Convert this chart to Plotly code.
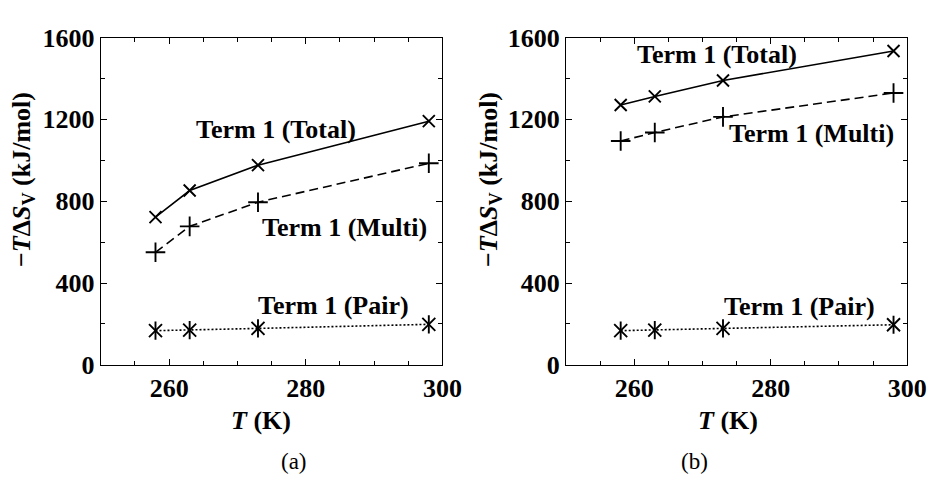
import plotly.graph_objects as go

# ---- data ----
T = [258, 263, 273, 298]
total_a = [722, 852, 976, 1191]
multi_a = [550, 677, 795, 985]
pair_a = [167, 170, 178, 198]
total_b = [1270, 1312, 1390, 1534]
multi_b = [1094, 1136, 1212, 1329]
pair_b = [167, 170, 178, 196]

FONT = "Liberation Serif"
W, H = 949, 488

fig = go.Figure()

def add_panel(xa, ya, total, multi, pair):
    fig.add_trace(go.Scatter(x=T, y=total, mode="lines+markers", xaxis=xa, yaxis=ya,
                             line=dict(color="black", width=1.6),
                             marker=dict(symbol="x-thin-open", size=12, color="black",
                                         line=dict(color="black", width=1.9)),
                             showlegend=False))
    fig.add_trace(go.Scatter(x=T, y=multi, mode="lines+markers", xaxis=xa, yaxis=ya,
                             line=dict(color="black", width=1.6, dash="9px,5px"),
                             marker=dict(symbol="cross-thin-open", size=14, color="black",
                                         line=dict(color="black", width=1.9)),
                             showlegend=False))
    fig.add_trace(go.Scatter(x=T, y=pair, mode="lines+markers", xaxis=xa, yaxis=ya,
                             line=dict(color="black", width=1.6, dash="2px,2px"),
                             marker=dict(symbol="x-thin-open", size=13, color="black",
                                         line=dict(color="black", width=1.9)),
                             showlegend=False))
    fig.add_trace(go.Scatter(x=T, y=pair, mode="markers", xaxis=xa, yaxis=ya,
                             marker=dict(symbol="line-ns-open", size=13, color="black",
                                         line=dict(color="black", width=1.9)),
                             showlegend=False))

add_panel("x", "y", total_a, multi_a, pair_a)
add_panel("x2", "y2", total_b, multi_b, pair_b)

tickfont = dict(family=FONT, size=26, color="black", weight="bold")
xax = dict(range=[250, 300], tickvals=[260, 280, 300], ticks="inside", ticklen=6, tickwidth=1.3,
           showline=True, linecolor="black", linewidth=1.4, mirror="allticks",
           showgrid=False, zeroline=False, tickfont=tickfont, tickcolor="black",
           minor=dict(dtick=5, tick0=0, ticks="inside", ticklen=4, tickwidth=1.2, tickcolor="black",
                      showgrid=False))
yax = dict(range=[0, 1600], tickvals=[0, 400, 800, 1200, 1600], ticks="inside", ticklen=6, tickwidth=1.3,
           showline=True, linecolor="black", linewidth=1.4, mirror="allticks",
           showgrid=False, zeroline=False, tickfont=tickfont, tickcolor="black",
           minor=dict(dtick=200, tick0=0, ticks="inside", ticklen=4, tickwidth=1.2, tickcolor="black",
                      showgrid=False))

ydom = [1 - 373 / H, 1 - 25 / H]
fig.update_layout(
    width=W, height=H, margin=dict(l=0, r=0, t=0, b=0),
    paper_bgcolor="white", plot_bgcolor="white",
    xaxis=dict(xax, domain=[103 / W, 452 / W], anchor="y"),
    yaxis=dict(yax, domain=ydom, anchor="x"),
    xaxis2=dict(xax, domain=[578.3 / W, 926.7 / W], anchor="y2"),
    yaxis2=dict(yax, domain=ydom, anchor="x2"),
)

lab = dict(family=FONT, size=26, color="black", weight="bold")
labels = [
    ("x", "y", 275.6, 1149, "Term 1 (Total)"),
    ("x", "y", 285.6, 673, "Term 1 (Multi)"),
    ("x", "y", 284.0, 290, "Term 1 (Pair)"),
    ("x2", "y2", 272.1, 1516, "Term 1 (Total)"),
    ("x2", "y2", 286.0, 1132, "Term 1 (Multi)"),
    ("x2", "y2", 284.2, 286, "Term 1 (Pair)"),
]
for xr, yr, x, y, t in labels:
    fig.add_annotation(x=x, y=y, xref=xr, yref=yr, text=t, showarrow=False,
                       xanchor="center", yanchor="middle", font=lab)

ytitle = "\u2212<i>T</i>\u0394<i>S</i><sub>V</sub> (kJ/mol)"
for xc in [23, 500]:
    fig.add_annotation(x=xc / W, y=1 - 176 / H, xref="paper", yref="paper", text=ytitle,
                       textangle=-90, showarrow=False, xanchor="center", yanchor="middle", font=lab)
for xc in [267, 744]:
    fig.add_annotation(x=xc / W, y=1 - 432 / H, xref="paper", yref="paper", text="<i>T</i> (K)",
                       showarrow=False, xanchor="center", yanchor="middle", font=lab)
for xc, t in [(300, "(a)"), (709, "(b)")]:
    fig.add_annotation(x=xc / W, y=1 - 476 / H, xref="paper", yref="paper", text=t,
                       showarrow=False, xanchor="center", yanchor="middle",
                       font=dict(family=FONT, size=23, color="black"))

fig.write_html("out.html")
